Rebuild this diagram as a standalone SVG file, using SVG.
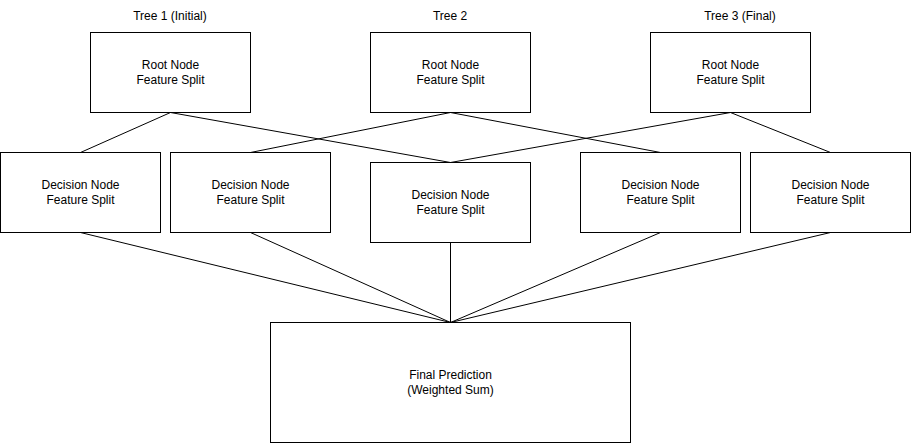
<svg xmlns="http://www.w3.org/2000/svg" width="912" height="443" viewBox="0 0 912 443">
<style>
rect{fill:#fff;stroke:#000;stroke-width:1}
text{font-family:"Liberation Sans",Arial,sans-serif;font-size:12px;fill:#000;text-anchor:middle}
#edges line{stroke:#000;stroke-width:1}
</style>
<rect x="0" y="0" width="912" height="443" style="stroke:none"/>
<g id="labels">
<text x="170" y="20">Tree 1 (Initial)</text>
<text x="450" y="20">Tree 2</text>
<text x="740" y="20">Tree 3 (Final)</text>
</g>
<g id="edges">
<line x1="170.5" y1="112.5" x2="80.5" y2="152.5"/>
<line x1="170.5" y1="112.5" x2="450.5" y2="162.5"/>
<line x1="450.5" y1="112.5" x2="250.5" y2="152.5"/>
<line x1="450.5" y1="112.5" x2="660.5" y2="152.5"/>
<line x1="730.5" y1="112.5" x2="450.5" y2="162.5"/>
<line x1="730.5" y1="112.5" x2="830.5" y2="152.5"/>
<line x1="80.5" y1="232.5" x2="450.5" y2="322.5"/>
<line x1="250.5" y1="232.5" x2="450.5" y2="322.5"/>
<line x1="450.5" y1="242.5" x2="450.5" y2="322.5"/>
<line x1="660.5" y1="232.5" x2="450.5" y2="322.5"/>
<line x1="830.5" y1="232.5" x2="450.5" y2="322.5"/>
</g>
<g id="root1"><rect x="90.5" y="32.5" width="160" height="80"/><text x="170.5" y="68.5">Root Node</text><text x="170.5" y="83.5">Feature Split</text></g>
<g id="root2"><rect x="370.5" y="32.5" width="160" height="80"/><text x="450.5" y="68.5">Root Node</text><text x="450.5" y="83.5">Feature Split</text></g>
<g id="root3"><rect x="650.5" y="32.5" width="160" height="80"/><text x="730.5" y="68.5">Root Node</text><text x="730.5" y="83.5">Feature Split</text></g>
<g id="dec1"><rect x="0.5" y="152.5" width="160" height="80"/><text x="80.5" y="188.5">Decision Node</text><text x="80.5" y="203.5">Feature Split</text></g>
<g id="dec2"><rect x="170.5" y="152.5" width="160" height="80"/><text x="250.5" y="188.5">Decision Node</text><text x="250.5" y="203.5">Feature Split</text></g>
<g id="dec3"><rect x="370.5" y="162.5" width="160" height="80"/><text x="450.5" y="198.5">Decision Node</text><text x="450.5" y="213.5">Feature Split</text></g>
<g id="dec4"><rect x="580.5" y="152.5" width="160" height="80"/><text x="660.5" y="188.5">Decision Node</text><text x="660.5" y="203.5">Feature Split</text></g>
<g id="dec5"><rect x="750.5" y="152.5" width="160" height="80"/><text x="830.5" y="188.5">Decision Node</text><text x="830.5" y="203.5">Feature Split</text></g>
<g id="final"><rect x="270.5" y="322.5" width="360" height="120"/><text x="450.5" y="378.5">Final Prediction</text><text x="450.5" y="393.5">(Weighted Sum)</text></g>
</svg>
